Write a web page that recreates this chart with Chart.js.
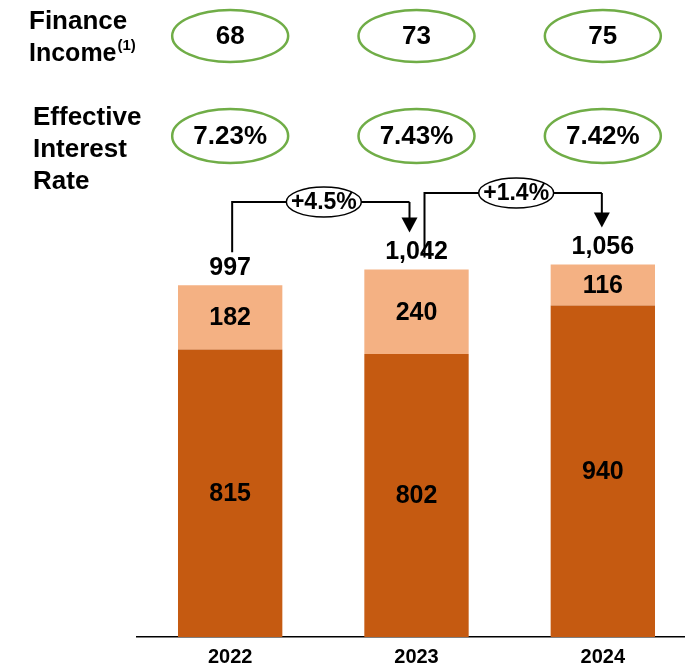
<!DOCTYPE html>
<html>
<head>
<meta charset="utf-8">
<script src="https://cdn.jsdelivr.net/npm/chart.js"></script>
<style>
  html, body { margin: 0; padding: 0; background: #fff; overflow: hidden; }
  #wrap { width: 696px; height: 668px; }
</style>
</head>
<body>
<div id="wrap"><canvas id="bar-chart" width="696" height="668"></canvas></div>
<script>
// years on the x axis
const years = ["2022", "2023", "2024"];
// bottom (dark) and top (light) part of each bar
const baseValues = [815, 802, 940];
const topValues = [182, 240, 116];
// the two rows of ovals above the bars
const financeIncome = ["68", "73", "75"];
const interestRates = ["7.23%", "7.43%", "7.42%"];
// change from one year to the next (as printed)
const growthLabels = ["+4.5%", "+1.4%"];

const darkOrange = "#C55A11";
const lightOrange = "#F4B183";
const green = "#70AD47";
const FONT = "'Liberation Sans', Arial, sans-serif";

function oval(ctx, x, y, rx, ry, stroke, lw, fill) {
  ctx.beginPath();
  ctx.ellipse(x, y, rx, ry, 0, 0, Math.PI * 2);
  if (fill) {
    ctx.fillStyle = fill;
    ctx.fill();
  }
  ctx.strokeStyle = stroke;
  ctx.lineWidth = lw;
  ctx.stroke();
}

function arrowDown(ctx, x, yFrom, yTip) {
  ctx.beginPath();
  ctx.moveTo(x, yFrom);
  ctx.lineTo(x, yTip - 12);
  ctx.stroke();
  ctx.beginPath();
  ctx.moveTo(x - 8, yTip - 15);
  ctx.lineTo(x + 8, yTip - 15);
  ctx.lineTo(x, yTip);
  ctx.closePath();
  ctx.fillStyle = "#000";
  ctx.fill();
}

const annotations = {
  id: "annotations",
  afterDatasetsDraw(chart) {
    const ctx = chart.ctx;
    const xs = chart.scales.x;
    const ys = chart.scales.y;
    const cx = years.map((_, i) => xs.getPixelForValue(i));
    const totals = baseValues.map((v, i) => v + topValues[i]);

    ctx.save();
    ctx.textAlign = "center";
    ctx.textBaseline = "middle";
    ctx.fillStyle = "#000";
    ctx.font = "bold 25px " + FONT;

    // numbers inside the bar segments
    chart.data.datasets.forEach((ds, di) => {
      chart.getDatasetMeta(di).data.forEach((bar, i) => {
        ctx.fillStyle = "#000";
        ctx.fillText(ds.data[i], bar.x, (bar.y + bar.base) / 2 + 1);
      });
    });

    // totals above the bars
    const totalY = totals.map((t) => ys.getPixelForValue(t) - 17);
    totals.forEach((t, i) => {
      ctx.fillStyle = "#000";
      ctx.fillText(t.toLocaleString("en-US"), cx[i], totalY[i]);
    });

    // ovals for finance income and interest rate
    ctx.font = "bold 26px " + FONT;
    financeIncome.forEach((v, i) => {
      oval(ctx, cx[i], 36, 58, 26, green, 2.5, "#fff");
      ctx.fillStyle = "#000";
      ctx.fillText(v, cx[i], 37);
    });
    interestRates.forEach((v, i) => {
      oval(ctx, cx[i], 136, 58, 27, green, 2.5, "#fff");
      ctx.fillStyle = "#000";
      ctx.fillText(v, cx[i], 137);
    });

    // row titles
    ctx.textAlign = "left";
    ctx.textBaseline = "alphabetic";
    ctx.font = "bold 26px " + FONT;
    ctx.fillText("Finance", 29, 29);
    ctx.font = "bold 25px " + FONT;
    ctx.fillText("Income", 29, 61);
    const w = ctx.measureText("Income").width;
    ctx.font = "bold 15px " + FONT;
    ctx.fillText("(1)", 29 + w + 1, 50);
    ctx.font = "bold 26px " + FONT;
    ctx.fillText("Effective", 33, 125);
    ctx.fillText("Interest", 33, 157);
    ctx.fillText("Rate", 33, 189);

    // growth brackets between the totals
    const levels = [202, 193];
    const starts = [cx[0] + 2, cx[1] + 8];
    const startBottoms = [totalY[0] - 16, totalY[1] + 5];
    const ends = [cx[1] - 7, cx[2] - 1];
    growthLabels.forEach((g, i) => {
      const yTop = levels[i];
      ctx.strokeStyle = "#000";
      ctx.lineWidth = 2;
      ctx.beginPath();
      ctx.moveTo(starts[i], startBottoms[i]);
      ctx.lineTo(starts[i], yTop);
      ctx.lineTo(ends[i], yTop);
      ctx.stroke();
      arrowDown(ctx, ends[i], yTop, totalY[i + 1] - 20);
      const mx = (starts[i] + ends[i]) / 2 + 3;
      oval(ctx, mx, yTop, 37.5, 15, "#000", 1.5, "#fff");
      ctx.fillStyle = "#000";
      ctx.textAlign = "center";
      ctx.textBaseline = "middle";
      ctx.font = "bold 23px " + FONT;
      ctx.fillText(g, mx, yTop + 1);
    });
    ctx.restore();
  }
};

new Chart(document.getElementById("bar-chart"), {
  type: "bar",
  data: {
    labels: years,
    datasets: [
      {
        label: "base",
        data: baseValues,
        backgroundColor: darkOrange,
        borderWidth: 0,
        barPercentage: 0.56,
        categoryPercentage: 1
      },
      {
        label: "top",
        data: topValues,
        backgroundColor: lightOrange,
        borderWidth: 0,
        barPercentage: 0.56,
        categoryPercentage: 1
      }
    ]
  },
  plugins: [annotations],
  options: {
    responsive: false,
    animation: false,
    layout: { padding: { left: 137, right: 0, top: 0, bottom: 0 } },
    plugins: {
      legend: { display: false },
      tooltip: { enabled: false }
    },
    scales: {
      x: {
        stacked: true,
        grid: { display: false, drawTicks: false },
        border: { display: true, color: "#000", width: 1.5 },
        ticks: {
          color: "#000",
          padding: 8,
          font: { family: FONT, size: 20, weight: "bold" }
        },
        afterFit: (s) => { s.height = 31; }
      },
      y: {
        stacked: true,
        display: false,
        min: 0,
        max: 1806
      }
    }
  }
});
</script>
</body>
</html>
